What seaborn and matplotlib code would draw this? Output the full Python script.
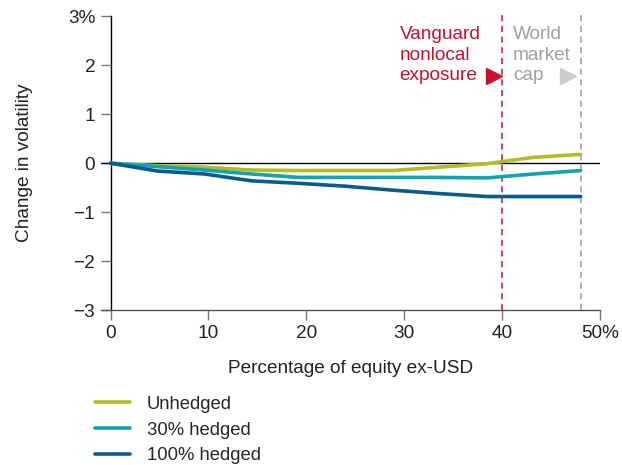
import numpy as np
import pandas as pd
import seaborn as sns
import matplotlib.pyplot as plt
from matplotlib.lines import Line2D

# share of equity outside the US (%)
pct_ex_usd = [0, 4.8, 9.6, 14.4, 19.2, 24.0, 28.8, 33.6, 38.4, 43.2, 48.0]

# change in volatility (percentage points)
unhedged = [0, -0.05, -0.08, -0.14, -0.15, -0.15, -0.15, -0.08, -0.01, 0.12, 0.18]
hedged_30 = [0, -0.07, -0.14, -0.22, -0.29, -0.29, -0.29, -0.29, -0.30, -0.22, -0.15]
hedged_100 = [0, -0.16, -0.22, -0.36, -0.41, -0.47, -0.55, -0.62, -0.68, -0.68, -0.68]

series_names = ["Unhedged", "30% hedged", "100% hedged"]
series_colors = ["#B3BC22", "#12A3AF", "#0A5A8C"]

vanguard_x = 40
world_cap_x = 48

y_ticks = [-3, -2, -1, 0, 1, 2, 3]
y_tick_labels = ["\u22123", "\u22122", "\u22121", "0", "1", "2", "3%"]
x_ticks = [0, 10, 20, 30, 40, 50]
x_tick_labels = ["0", "10", "20", "30", "40", "50%"]

df = pd.DataFrame({
    "x": pct_ex_usd * 3,
    "y": unhedged + hedged_30 + hedged_100,
    "series": np.repeat(series_names, len(pct_ex_usd)),
})

sns.set_style("white")
plt.rcParams["font.family"] = ["Liberation Sans", "DejaVu Sans"]
fs = 13.7
txt = "#222222"

fig = plt.figure(figsize=(6.22, 4.65), dpi=100)
ax = fig.add_axes([0.162, 0.333, 0.803, 0.632])

ax.axhline(0, color="black", lw=1.0, zorder=1)

sns.lineplot(
    data=df,
    x="x",
    y="y",
    hue="series",
    hue_order=series_names,
    palette=series_colors,
    linewidth=2.6,
    legend=False,
    ax=ax,
    zorder=3,
)

red = "#C8102E"
gray = "#9D9D9D"
ax.plot([vanguard_x, vanguard_x], [-3, 3.08], color=red, lw=1.1,
        ls=(0, (4, 3)), clip_on=False, zorder=2)
ax.plot([world_cap_x, world_cap_x], [-3, 3.08], color=gray, lw=1.1,
        ls=(0, (4, 3)), clip_on=False, zorder=2)

ax.text(29.5, 2.8, "Vanguard\nnonlocal\nexposure", color=red, fontsize=fs,
        ha="left", va="top", linespacing=1.28)
ax.plot(39.2, 1.78, marker=">", color=red, markersize=11, clip_on=False)
ax.text(41.1, 2.8, "World\nmarket\ncap", color="#A0A0A0", fontsize=fs,
        ha="left", va="top", linespacing=1.28)
ax.plot(46.7, 1.78, marker=">", color="#CCCCCC", markersize=11, clip_on=False)

ax.set_xlim(-1, 50)
ax.set_ylim(-3, 3)
ax.set_yticks(y_ticks)
ax.set_yticklabels(y_tick_labels)
ax.set_xticks(x_ticks)
ax.set_xticklabels(x_tick_labels)

ax.spines["top"].set_visible(False)
ax.spines["right"].set_visible(False)
ax.spines["left"].set_position(("data", 0))
ax.spines["left"].set_color("black")
ax.spines["bottom"].set_color("#555555")
ax.spines["left"].set_linewidth(1.0)
ax.spines["bottom"].set_linewidth(1.0)

ax.tick_params(axis="both", which="major", direction="out", length=7,
               width=1.0, color="#777777", labelsize=fs,
               labelcolor=txt, pad=4, left=True, bottom=True)

ax.set_xlabel("Percentage of equity ex-USD", fontsize=fs, color=txt,
              labelpad=13)
ax.set_ylabel("Change in volatility", fontsize=fs, color=txt)
ax.yaxis.set_label_coords(-0.135, 0.5)

handles = [Line2D([], [], color=c, lw=2.6) for c in series_colors]
fig.legend(handles, series_names, loc="upper left", bbox_to_anchor=(0.153, 0.149),
           frameon=False, fontsize=13.3, handlelength=1.9, handletextpad=0.9,
           labelspacing=0.48, borderaxespad=0, borderpad=0)

fig.savefig("out.png", dpi=100)
